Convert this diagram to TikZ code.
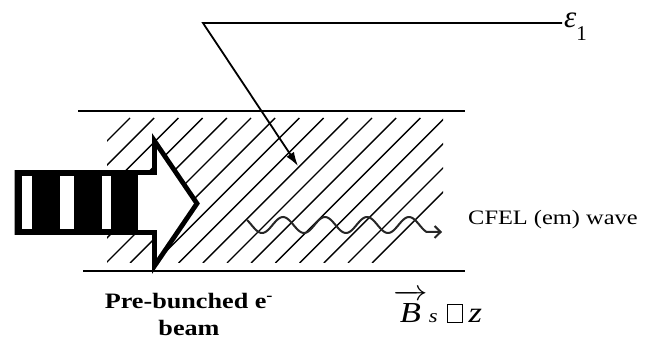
\RequirePackage{fix-cm}
\documentclass[tikz,border=0pt]{standalone}
\usepackage{fontspec}
\setmainfont{Liberation Serif}
\usetikzlibrary{arrows.meta}

\begin{document}
\begin{tikzpicture}[
  x=1pt, y=-1pt,
  wall/.style={line width=1.9pt},
  hatch/.style={line width=1.4pt},
  beamarrow/.style={draw, fill=white, line width=4.8pt, miter limit=10},
  leader/.style={line width=1.8pt, -{Latex[length=14pt,width=9pt]}},
  wave/.style={line width=2pt, color=black!85, -{Straight Barb[length=6pt,width=12pt]}},
  lbl/.style={inner sep=0pt, xscale=1.19, transform shape, font=\fontsize{20.5}{27}\selectfont},
]
\useasboundingbox (0,0) rectangle (646,342);

% waveguide walls
\coordinate (wtl) at (78,111);
\coordinate (wtr) at (465,111);
\coordinate (wbl) at (83,271);
\coordinate (wbr) at (465,271);
\draw[wall] (wtl) -- (wtr);
\draw[wall] (wbl) -- (wbr);

% dielectric filling
\begin{scope}
  \clip (107,118) rectangle (443,263);
  \foreach \k in {0,...,16} {
    \pgfmathsetmacro\c{248+24.2*\k}
    \draw[hatch] (\c-263,263) -- (\c-118,118);
  }
\end{scope}

% pre-bunched beam arrow
\draw[beamarrow] (17,172.5) -- (154.5,172.5) -- (154.5,141) -- (197,203.5)
  -- (154.5,266) -- (154.5,232.5) -- (17,232.5) -- cycle;
\fill (15,170) rectangle (138,235);
\fill[white] (22,176) rectangle (32,229);
\fill[white] (60,176) rectangle (74,229);
\fill[white] (102,176) rectangle (111,229);

% radiated wave
\coordinate (wend) at (442,232);
\draw[wave] plot[domain=247:426.6, samples=120, smooth]
  (\x,{225-8*cos(8.5714*(\x-241))}) -- (wend);

% labels
\node[lbl, anchor=base west] (cfel) at (468,225) {CFEL (em) wave};
\node[lbl, anchor=base, align=center, font=\fontsize{22}{27}\selectfont\bfseries]
  (ebeam) at (189,335) {Pre-bunched e\textsuperscript{-}\\beam};
\node[lbl, anchor=base west, font=\fontsize{29}{29}\selectfont] (bfield) at (393,322)
  {$\overrightarrow{\rule{0pt}{23pt}\textit{B}}$\hspace{1pt}{\fontsize{19}{19}\selectfont\textit{s}}\hspace{8pt}%
   {\fboxsep=0pt\fboxrule=0.5pt\fbox{\rule{0pt}{18pt}\hspace{12pt}}}\hspace{5pt}%
   \textit{z}};
\node[inner sep=0pt, anchor=base west, font=\fontsize{31}{31}\selectfont] (eps) at (564,28)
  {\textit{ε}{\fontsize{21}{21}\selectfont\raisebox{-13pt}{1}}};

% leader to the dielectric
\coordinate (bend) at (203,23);
\coordinate (tip) at (298,166);
\draw[leader] ([xshift=-2pt]bend -| eps.west) -- (bend) -- (tip);

\end{tikzpicture}
\end{document}
